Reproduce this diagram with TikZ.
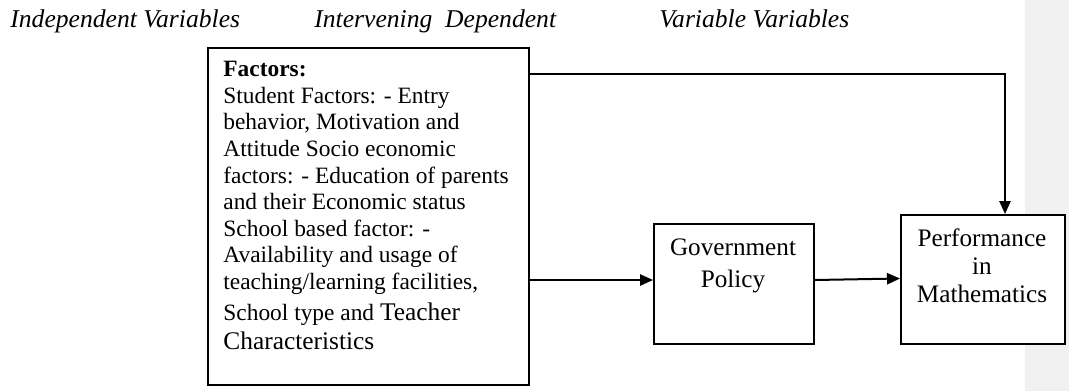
\documentclass[tikz,border=0pt]{standalone}
\usepackage{fontspec}
\setmainfont{Liberation Serif}
\usepackage{xcolor}
\usetikzlibrary{positioning,arrows.meta}
\definecolor{panelgrey}{HTML}{F1F1F1}

\tikzset{
  box/.style={draw, line width=1pt, fill=white, inner sep=0pt},
  boxtext/.style={align=center, inner sep=0pt, font=\fontsize{12.6}{15}\selectfont},
  head/.style={anchor=base west, inner sep=0pt, font=\fontsize{12.8}{14}\selectfont\itshape},
  link/.style={-{Triangle[length=6.5pt,width=5.6pt]}, line width=1pt}
}

\begin{document}
\begin{tikzpicture}[x=0.5pt,y=-0.5pt]
\useasboundingbox (0,0) rectangle (1069,391);
      \fill[panelgrey] (1025,0) rectangle (1069,391);
      \node[head] (indep) at (10,27) {Independent Variables};
      \node[head] (interv) at (314,27) {Intervening\ \ Dependent};
      \node[head] (varvar) at (659,27) {Variable Variables};
      \node[box, anchor=north west, minimum width=160.5pt, minimum height=168.5pt] (factors) at (207,47) {};
      \node[anchor=north west, align=left, inner sep=0pt, font=\fontsize{11.7}{13.3}\selectfont] (factorstext) at (223,61)
        {\textbf{Factors:}\\
         Student Factors: - Entry\\
         behavior, Motivation and\\
         Attitude Socio economic\\
         factors: - Education of parents\\
         and their Economic status\\
         School based factor: -\\
         Availability and usage of\\
         teaching/learning facilities,\\[2.4pt]
         School type and {\fontsize{12.7}{15}\selectfont Teacher}\\[1pt]
         {\fontsize{12.7}{15}\selectfont Characteristics}};
      \node[box, anchor=north west, minimum width=80pt, minimum height=60pt] (gov) at (653,223) {};
      \node[boxtext, anchor=north, font=\fontsize{12.6}{16}\selectfont] (govtext) at (733,238) {Government\\Policy};
      \node[box, anchor=north west, minimum width=82pt, minimum height=64.5pt] (perf) at (900,214) {};
      \node[boxtext, anchor=north, font=\fontsize{12.6}{14}\selectfont] (perftext) at (982,228) {Performance\\in\\Mathematics};
      \coordinate (turn) at (1005,74);
      \coordinate (govin) at ([yshift=2pt]gov.west);
      \coordinate (govout) at ([yshift=2pt]gov.east);
      \coordinate (perfin) at ([yshift=0.5pt]perf.west);
      \draw[link] (turn -| factors.east) -- (turn) -- (turn |- perf.north);
      \draw[link] (govin -| factors.east) -- (govin);
      \draw[link] (govout) -- (perfin);
\end{tikzpicture}
\end{document}
